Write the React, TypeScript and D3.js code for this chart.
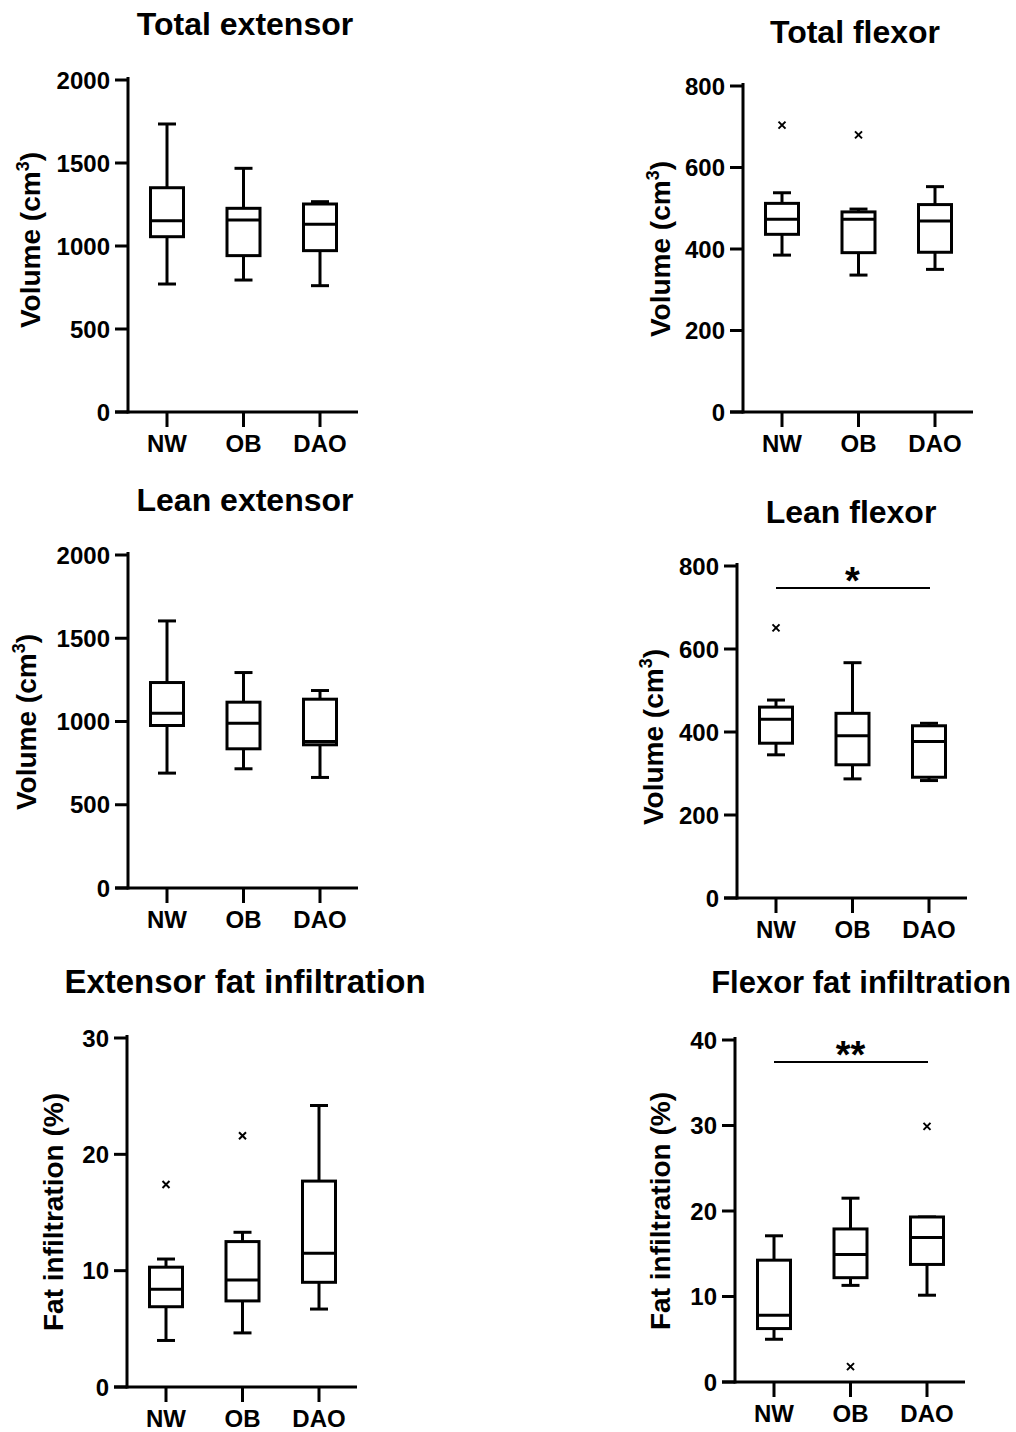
import React from 'react';
import * as d3 from 'd3';

// groups on every x axis
const groups = ["NW", "OB", "DAO"];

// five-number summaries per group: [min, q1, median, q3, max]
const totalExtensor = [[771, 1056, 1152, 1351, 1735], [795, 942, 1157, 1227, 1468], [761, 972, 1131, 1253, 1267]];
const totalFlexor = [[385, 436, 473, 512, 538], [336, 391, 473, 491, 498], [350, 392, 469, 509, 553]];
const leanExtensor = [[690, 976, 1050, 1234, 1604], [716, 836, 990, 1116, 1294], [664, 860, 880, 1134, 1186]];
const leanFlexor = [[345, 373, 431, 460, 477], [287, 321, 391, 445, 567], [283, 291, 377, 415, 421]];
const extensorFat = [[4.0, 6.9, 8.4, 10.3, 11.0], [4.65, 7.4, 9.2, 12.5, 13.3], [6.7, 9.0, 11.5, 17.7, 24.2]];
const flexorFat = [[5.0, 6.25, 7.8, 14.25, 17.1], [11.3, 12.2, 14.9, 17.9, 21.5], [10.15, 13.75, 16.9, 19.3, 19.3]];

// outliers: [group, value]
const totalExtensorOut: [string, number][] = [];
const totalFlexorOut: [string, number][] = [["NW", 704], ["OB", 680]];
const leanExtensorOut: [string, number][] = [];
const leanFlexorOut: [string, number][] = [["NW", 651]];
const extensorFatOut: [string, number][] = [["NW", 17.4], ["OB", 21.6]];
const flexorFatOut: [string, number][] = [["OB", 1.8], ["DAO", 29.9]];

// y ticks
const volumeTicks = [0, 500, 1000, 1500, 2000];
const flexorTicks = [0, 200, 400, 600, 800];
const extFatTicks = [0, 10, 20, 30];
const flexFatTicks = [0, 10, 20, 30, 40];

const titles = ["Total extensor", "Total flexor", "Lean extensor", "Lean flexor", "Extensor fat infiltration", "Flexor fat infiltration"];

const FONT = "'Liberation Sans', Arial, sans-serif";

// layout per panel
const panels = [
  {title: titles[0], stats: totalExtensor, out: totalExtensorOut, ticks: volumeTicks, label: "vol", axisX: 128, yTop: 80, yBottom: 412, tx: 245, ty: 35, tsize: 32, lx: 40, ly: 240},
  {title: titles[1], stats: totalFlexor, out: totalFlexorOut, ticks: flexorTicks, label: "vol", axisX: 743, yTop: 86, yBottom: 412, tx: 855, ty: 43, tsize: 32, lx: 670, ly: 249},
  {title: titles[2], stats: leanExtensor, out: leanExtensorOut, ticks: volumeTicks, label: "vol", axisX: 128, yTop: 555, yBottom: 888, tx: 245, ty: 511, tsize: 32, lx: 36, ly: 722},
  {title: titles[3], stats: leanFlexor, out: leanFlexorOut, ticks: flexorTicks, label: "vol", axisX: 737, yTop: 566, yBottom: 898, tx: 851, ty: 523, tsize: 32, lx: 663, ly: 737, sig: "*", sigY: 588},
  {title: titles[4], stats: extensorFat, out: extensorFatOut, ticks: extFatTicks, label: "fat", axisX: 127, yTop: 1038, yBottom: 1387, tx: 245, ty: 993, tsize: 33, lx: 63, ly: 1212},
  {title: titles[5], stats: flexorFat, out: flexorFatOut, ticks: flexFatTicks, label: "fat", axisX: 735, yTop: 1040, yBottom: 1382, tx: 861, ty: 993, tsize: 31, lx: 670, ly: 1211, sig: "**", sigY: 1062},
];

function Panel({p}: {p: any}) {
  const yScale = d3.scaleLinear()
    .domain([p.ticks[0], p.ticks[p.ticks.length - 1]])
    .range([p.yBottom, p.yTop]);
  const xScale = d3.scalePoint<string>()
    .domain(groups)
    .range([p.axisX + 39, p.axisX + 192]);
  const boxW = 33, capW = 18, sw = 3;

  return (
    <g fill="none" stroke="#000" strokeWidth={sw}>
      <text x={p.tx} y={p.ty} textAnchor="middle" fontSize={p.tsize} fontWeight="bold" fontFamily={FONT} fill="#000" stroke="none">{p.title}</text>

      {/* y axis */}
      <line x1={p.axisX} x2={p.axisX} y1={p.yTop - 1.5} y2={p.yBottom} strokeLinecap="square" />
      {p.ticks.map((t: number) => (
        <g key={t}>
          <line x1={p.axisX - 13} x2={p.axisX} y1={yScale(t)} y2={yScale(t)} />
          <text x={p.axisX - 18} y={yScale(t)} dy="0.36em" textAnchor="end" fontSize={24} fontWeight="bold" fontFamily={FONT} fill="#000" stroke="none">{t}</text>
        </g>
      ))}

      {/* x axis */}
      <line x1={p.axisX - 13} x2={p.axisX + 230} y1={p.yBottom} y2={p.yBottom} />
      {groups.map(g => (
        <g key={g}>
          <line x1={xScale(g)} x2={xScale(g)} y1={p.yBottom} y2={p.yBottom + 15} />
          <text x={xScale(g)} y={p.yBottom + 40} textAnchor="middle" fontSize={24} fontWeight="bold" fontFamily={FONT} fill="#000" stroke="none">{g}</text>
        </g>
      ))}

      {/* boxes */}
      {p.stats.map((s: number[], i: number) => {
        const cx = xScale(groups[i]) as number;
        const [mn, q1, md, q3, mx] = s.map(v => yScale(v));
        return (
          <g key={i}>
            <line x1={cx} x2={cx} y1={mx} y2={q3} />
            <line x1={cx} x2={cx} y1={q1} y2={mn} />
            <line x1={cx - capW / 2} x2={cx + capW / 2} y1={mx} y2={mx} />
            <line x1={cx - capW / 2} x2={cx + capW / 2} y1={mn} y2={mn} />
            <rect x={cx - boxW / 2} y={q3} width={boxW} height={q1 - q3} fill="#fff" />
            <line x1={cx - boxW / 2} x2={cx + boxW / 2} y1={md} y2={md} />
          </g>
        );
      })}

      {/* outliers */}
      {p.out.map(([g, v]: [string, number], i: number) => {
        const cx = xScale(g) as number, cy = yScale(v), r = 3.5;
        return (
          <path key={i} d={`M${cx - r},${cy - r}L${cx + r},${cy + r}M${cx - r},${cy + r}L${cx + r},${cy - r}`} strokeWidth={2} />
        );
      })}

      {/* significance bar */}
      {p.sig && (
        <g>
          <line x1={xScale("NW")} x2={(xScale("DAO") as number) + 1} y1={p.sigY} y2={p.sigY} strokeWidth={2} />
          <text x={((xScale("NW") as number) + (xScale("DAO") as number)) / 2} y={p.sigY + 6} textAnchor="middle" fontSize={38} fontWeight="bold" fontFamily={FONT} fill="#000" stroke="none">{p.sig}</text>
        </g>
      )}

      {/* y label */}
      <text transform={`translate(${p.lx},${p.ly}) rotate(-90)`} textAnchor="middle" fontSize={28} fontWeight="bold" fontFamily={FONT} fill="#000" stroke="none">
        {p.label === "vol"
          ? <>Volume (cm<tspan fontSize={18} dy={-11}>3</tspan><tspan dy={11}>)</tspan></>
          : "Fat infiltration (%)"}
      </text>
    </g>
  );
}

export default function App() {
  return (
    <svg width={1016} height={1432} style={{position: 'absolute', left: 0, top: 0, background: '#fff'}}>
      <rect width={1016} height={1432} fill="#fff" />
      {panels.map((p, i) => <Panel key={i} p={p} />)}
    </svg>
  );
}
